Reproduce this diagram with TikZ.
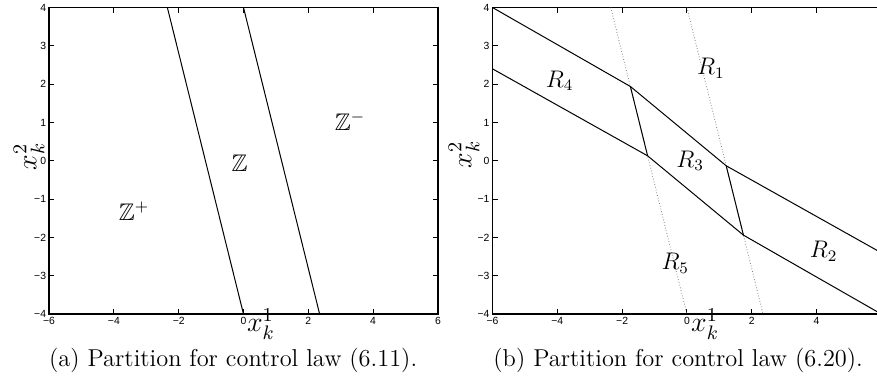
\RequirePackage{fix-cm}
\documentclass[tikz,border=0pt]{standalone}
\usepackage{amsmath}
\usepackage{amssymb}
\usepackage{fontspec}
\newfontfamily\tickfont{Liberation Sans}
\usetikzlibrary{positioning}
\tikzset{
  frame/.style={line width=0.8pt},
  tickmark/.style={line width=0.5pt},
  bnd/.style={line width=0.5pt},
  guide/.style={densely dotted, gray, line width=0.4pt},
  ticklbl/.style={font=\tickfont\fontsize{5.2}{6}\selectfont, inner sep=1.3pt},
  reg/.style={font=\fontsize{12}{14}\selectfont, inner sep=0pt},
  axlbl/.style={font=\fontsize{14}{16}\selectfont, inner sep=0pt},
  capt/.style={font=\fontsize{12.2}{14}\selectfont, inner sep=0pt, anchor=base}
}
\newcommand{\ticknum}[1]{\ifnum#1<0 −\number-#1\else#1\fi}

\begin{document}
\begin{tikzpicture}
  \useasboundingbox (0,0) rectangle (438.5pt,188.5pt);
  % --- Setup Definitions ---
  \def\xa{2.35}   % guard lines: x = -2.35 (y+4)/8 and x = 2.35 (4-y)/8

  % --- (a) Left partition ---
  \begin{scope}[shift={(121.75pt,108.1pt)}, x=16.2pt, y=19.16pt]
    \draw[frame] (-6,-4) rectangle (6,4);
    \foreach \t in {-6,-4,...,6} {
      \draw[tickmark] (\t,-4) -- ++(0,2.5pt) (\t,4) -- ++(0,-2.5pt);
      \node[ticklbl, below] (ax\t) at (\t,-4) {\ticknum{\t}};
    }
    \foreach \t in {-4,...,4} {
      \draw[tickmark] (-6,\t) -- ++(2.5pt,0) (6,\t) -- ++(-2.5pt,0);
      \node[ticklbl, left] (ay\t) at (-6,\t) {\ticknum{\t}};
    }
    % switching lines
    \draw[bnd] (-\xa,4) -- (0,-4);
    \draw[bnd] (0,4) -- (\xa,-4);
    % regions
    \node[reg] (zplus) at (-3.38,-1.31) {$\mathbb{Z}^+$};
    \node[reg] (zzero) at (-0.12,-0.06) {$\mathbb{Z}$};
    \node[reg] (zminus) at (3.29,1.04) {$\mathbb{Z}^-$};
    % axis labels
    \node[axlbl, anchor=base west] (axone) at (0.1,-4.45) {$x_k^1$};
    \node[axlbl, rotate=90] (axtwo) at (-6.62,0.12) {$x_k^2$};
    \node[capt] (capa) at (-0.32,-5.37) {(a) Partition for control law (6.11).};
  \end{scope}

  % --- (b) Right partition ---
  \begin{scope}[shift={(343.45pt,108.1pt)}, x=16.2pt, y=19.16pt]
    \begin{scope}
      \clip (-6.5,-4.5) rectangle (5.87,4.5);
      \draw[frame] (7,-4) -- (-6,-4) -- (-6,4) -- (7,4);
      \foreach \t in {-6,-4,...,4} {
        \draw[tickmark] (\t,-4) -- ++(0,2.5pt) (\t,4) -- ++(0,-2.5pt);
      }
      \foreach \t in {-4,...,4} {
        \draw[tickmark] (-6,\t) -- ++(2.5pt,0);
      }
      % guard lines of control law (6.11)
      \draw[guide] (-\xa,4) -- (0,-4);
      \draw[guide] (0,4) -- (\xa,-4);
      % kinks
      \coordinate (ka) at (-1.745,1.94);
      \coordinate (kb) at (-1.213,0.13);
      \coordinate (kc) at (1.213,-0.13);
      \coordinate (kd) at (1.745,-1.94);
      \draw[bnd] (-6,4) -- (ka) -- (kc) -- (6,-2.4);
      \draw[bnd] (-6,2.4) -- (kb) -- (kd) -- (6,-4);
      \draw[bnd] (ka) -- (kb);
      \draw[bnd] (kc) -- (kd);
    \end{scope}
    \foreach \t in {-6,-4,...,4} {
      \node[ticklbl, below] (bx\t) at (\t,-4) {\ticknum{\t}};
    }
    \foreach \t in {-4,...,4} {
      \node[ticklbl, left] (by\t) at (-6,\t) {\ticknum{\t}};
    }
    % regions
    \node[reg] (rone) at (0.74,2.42) {$R_1$};
    \node[reg] (rtwo) at (4.22,-2.36) {$R_2$};
    \node[reg] (rthree) at (0.1,0) {$R_3$};
    \node[reg] (rfour) at (-3.93,2.09) {$R_4$};
    \node[reg] (rfive) at (-0.36,-2.67) {$R_5$};
    % axis labels
    \node[axlbl, anchor=base west] (bxone) at (0.12,-4.45) {$x_k^1$};
    \node[axlbl, rotate=90] (bxtwo) at (-6.88,0.16) {$x_k^2$};
    \node[capt] (capb) at (-0.27,-5.37) {(b) Partition for control law (6.20).};
  \end{scope}
\end{tikzpicture}
\end{document}
